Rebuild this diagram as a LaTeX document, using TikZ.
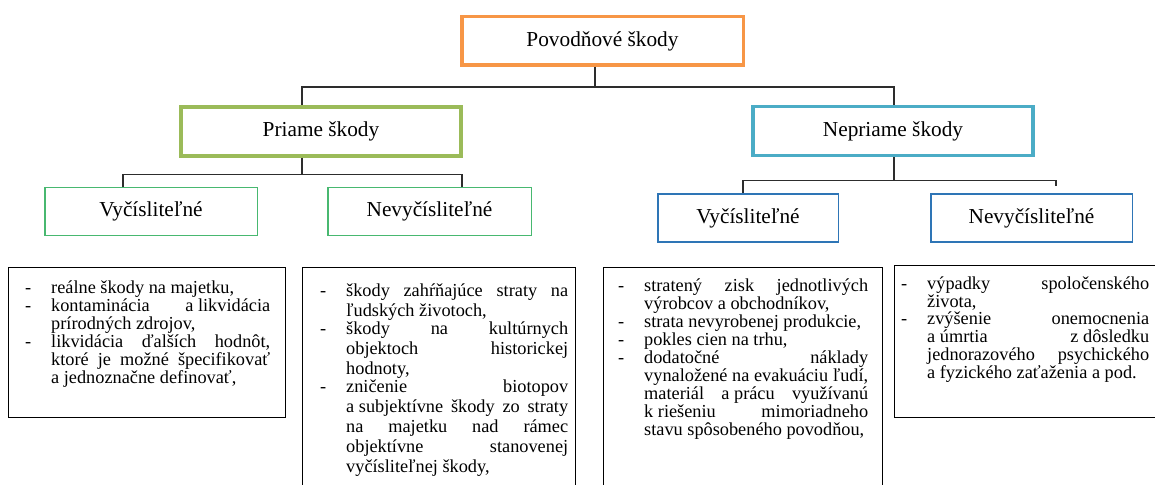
\documentclass[tikz,border=0pt]{standalone}
\usepackage{fontspec}
\setmainfont{Liberation Serif}
\usepackage{tikz}
\usetikzlibrary{calc}

\definecolor{oranzova}{RGB}{247,150,70}
\definecolor{olivova}{RGB}{155,187,89}
\definecolor{zelena}{RGB}{72,184,112}
\definecolor{tyrkys}{RGB}{75,172,198}
\definecolor{modra}{RGB}{46,117,182}
\definecolor{spojnica}{RGB}{45,45,45}

\tolerance=9999
\hbadness=10000
\hyphenpenalty=10000
\lineskiplimit=-20pt
\newcommand{\tvrd}{\nobreak\hspace{.25em}}
\newcommand{\polozka}[1]{\par\noindent\makebox[26pt][l]{\rule{0pt}{13pt}-}\parbox[t]{\dimexpr\hsize-26pt\relax}{#1}\par}

\tikzset{
	nadpis/.style={font=\fontsize{21.3}{25}\selectfont, inner sep=0pt},
	uroven1/.style={nadpis, draw=oranzova, line width=3.5pt, minimum width=281.5pt, minimum height=48.5pt},
	uroven2/.style={nadpis, draw=#1, line width=3.5pt, minimum width=280pt, minimum height=49pt},
	uroven3/.style={nadpis, draw=#1, line width=1.5pt, minimum height=48pt},
	ramik/.style={draw=black, line width=1.3pt, anchor=north west, inner sep=0pt},
	popis/.style={anchor=north west, inner sep=0pt, align=justify, font=\fontsize{18.3}{#1}\selectfont},
	popis/.default=18,
	spoj/.style={draw=spojnica, line width=1.3pt}
}

\begin{document}
\begin{tikzpicture}[x=1pt, y=-1pt]
	\useasboundingbox (0,0) rectangle (1155,484);
	\clip (0,0) rectangle (1155,484);

	\node (koren) at (602.5,41) [uroven1] {Povodňové škody};
	\node (priame) at (321,131.5) [uroven2=olivova] {Priame škody};
	\node (nepriame) at (893,131) [uroven2=tyrkys] {Nepriame škody};

	\node (vyc1) at (151,211.5) [uroven3=zelena, minimum width=212.5pt] {Vyčísliteľné};
	\node (nevyc1) at (429.5,211.5) [uroven3=zelena, minimum width=203.5pt] {Nevyčísliteľné};
	\node (vyc2) at (748,218) [uroven3=modra, minimum width=180.5pt] {Vyčísliteľné};
	\node (nevyc2) at (1031.5,218) [uroven3=modra, minimum width=201.5pt] {Nevyčísliteľné};

	\draw [spoj] ($(koren.south)+(-7.5,0)$) -- ++(0,20) -| ($(priame.north)+(-19,0)$);
	\draw [spoj] ($(koren.south)+(-7.5,0)$) -- ++(0,20) -| ($(nepriame.north)+(1,0)$);
	\draw [spoj] ($(priame.south)+(-19,0)$) -- ++(0,17) -| ($(vyc1.north)+(-28,0)$);
	\draw [spoj] ($(priame.south)+(-19,0)$) -- ++(0,17) -| ($(nevyc1.north)+(32.5,0)$);
	\draw [spoj] ($(nepriame.south)+(1,0)$) -- ++(0,23.5) -| ($(vyc2.north)+(-5,0)$);
	\draw [spoj] ($(nepriame.south)+(1,0)$) -- ++(0,23.5) -| ($(nevyc2.north)+(24.5,-7)$);

	\node (r1) at (8,267) [ramik, minimum width=277pt, minimum height=150pt] {};
	\node (r2) at (302,267) [ramik, minimum width=273pt, minimum height=240pt] {};
	\node (r3) at (603,267) [ramik, minimum width=279pt, minimum height=240pt] {};
	\node (r4) at (894,265) [ramik, minimum width=280pt, minimum height=152pt] {};

	\node (t1) at ($(r1.north west)+(17,8)$) [popis, text width=245pt] {
		\polozka{reálne škody na majetku,}
		\polozka{kontaminácia a\tvrd likvidácia\linebreak prírodných zdrojov,}
		\polozka{likvidácia ďalších hodnôt,\linebreak ktoré je možné špecifikovať\linebreak a\tvrd jednoznačne definovať,}
	};
	\node (t2) at ($(r2.north west)+(18,9)$) [popis=20, text width=248pt] {
		\polozka{škody zahŕňajúce straty na\linebreak ľudských životoch,}
		\polozka{škody na kultúrnych\linebreak objektoch historickej\linebreak hodnoty,}
		\polozka{zničenie biotopov\linebreak a\tvrd subjektívne škody zo straty\linebreak na majetku nad rámec\linebreak objektívne stanovenej\linebreak vyčísliteľnej škody,}
	};
	\node (t3) at ($(r3.north west)+(15,6)$) [popis, text width=250pt] {
		\polozka{stratený zisk jednotlivých\linebreak výrobcov a obchodníkov,}
		\polozka{strata nevyrobenej produkcie,}
		\polozka{pokles cien na trhu,}
		\polozka{dodatočné náklady\linebreak vynaložené na evakuáciu ľudí,\linebreak materiál a\tvrd prácu využívanú\linebreak k\tvrd riešeniu mimoriadneho\linebreak stavu spôsobeného povodňou,}
	};
	\node (t4) at ($(r4.north west)+(7,6)$) [popis, text width=248pt] {
		\polozka{výpadky spoločenského\linebreak života,}
		\polozka{zvýšenie onemocnenia\linebreak a\tvrd úmrtia z\tvrd dôsledku\linebreak jednorazového psychického\linebreak a\tvrd fyzického zaťaženia a pod.}
	};
\end{tikzpicture}
\end{document}
